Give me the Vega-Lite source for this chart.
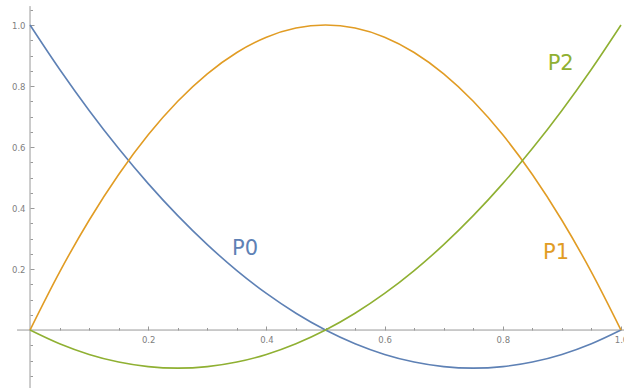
{
  "$schema": "https://vega.github.io/schema/vega-lite/v6.json",
  "width": 624,
  "height": 388,
  "padding": 0,
  "autosize": {"type": "none"},
  "background": "white",
  "config": {"view": {"stroke": null}},
  "datasets": {
    "curves": [
      {"t": 0, "P0": 1, "P1": 0, "P2": 0},
      {"t": 0.05, "P0": 0.855, "P1": 0.19, "P2": -0.045},
      {"t": 0.1, "P0": 0.72, "P1": 0.36, "P2": -0.08},
      {"t": 0.15, "P0": 0.595, "P1": 0.51, "P2": -0.105},
      {"t": 0.2, "P0": 0.48, "P1": 0.64, "P2": -0.12},
      {"t": 0.25, "P0": 0.375, "P1": 0.75, "P2": -0.125},
      {"t": 0.3, "P0": 0.28, "P1": 0.84, "P2": -0.12},
      {"t": 0.35, "P0": 0.195, "P1": 0.91, "P2": -0.105},
      {"t": 0.4, "P0": 0.12, "P1": 0.96, "P2": -0.08},
      {"t": 0.45, "P0": 0.055, "P1": 0.99, "P2": -0.045},
      {"t": 0.5, "P0": 0, "P1": 1, "P2": 0},
      {"t": 0.55, "P0": -0.045, "P1": 0.99, "P2": 0.055},
      {"t": 0.6, "P0": -0.08, "P1": 0.96, "P2": 0.12},
      {"t": 0.65, "P0": -0.105, "P1": 0.91, "P2": 0.195},
      {"t": 0.7, "P0": -0.12, "P1": 0.84, "P2": 0.28},
      {"t": 0.75, "P0": -0.125, "P1": 0.75, "P2": 0.375},
      {"t": 0.8, "P0": -0.12, "P1": 0.64, "P2": 0.48},
      {"t": 0.85, "P0": -0.105, "P1": 0.51, "P2": 0.595},
      {"t": 0.9, "P0": -0.08, "P1": 0.36, "P2": 0.72},
      {"t": 0.95, "P0": -0.045, "P1": 0.19, "P2": 0.855},
      {"t": 1, "P0": 0, "P1": 0, "P2": 1}
    ],
    "labels": [
      {"s": "P0", "x": 0.364, "y": 0.265},
      {"s": "P1", "x": 0.89, "y": 0.252},
      {"s": "P2", "x": 0.898, "y": 0.872}
    ],
    "axes": [
      {"ax": "x", "x": -0.022, "x2": 1.006, "y": 0, "y2": 0},
      {"ax": "y", "x": 0, "x2": 0, "y": -0.2, "y2": 1.062}
    ]
  },
  "resolve": {"axis": {"x": "independent", "y": "independent"}},
  "layer": [
    {
      "data": {"name": "axes"},
      "mark": {"type": "rule", "color": "#999999", "strokeWidth": 1},
      "encoding": {
        "x": {"field": "x", "type": "quantitative", "scale": {"domain": [-0.0508, 1.0051], "nice": false, "zero": false}, "axis": null},
        "x2": {"field": "x2"},
        "y": {"field": "y", "type": "quantitative", "scale": {"domain": [-0.19, 1.082], "nice": false, "zero": false}, "axis": null},
        "y2": {"field": "y2"}
      }
    },
    {
      "data": {"name": "curves"},
      "transform": [{"fold": ["P0", "P1", "P2"], "as": ["s", "v"]}],
      "mark": {"type": "line", "interpolate": "monotone", "strokeWidth": 1.6, "clip": true},
      "encoding": {
        "x": {
          "field": "t", "type": "quantitative",
          "scale": {"domain": [-0.0508, 1.0051], "nice": false, "zero": false},
          "axis": {
            "orient": "top", "offset": -330, "title": null, "labels": false, "domain": false, "grid": false,
            "values": [0.05, 0.1, 0.15, 0.2, 0.25, 0.3, 0.35, 0.4, 0.45, 0.5, 0.55, 0.6, 0.65, 0.7, 0.75, 0.8, 0.85, 0.9, 0.95, 1.0],
            "tickColor": "#999999", "tickWidth": 1,
            "tickSize": {"condition": {"test": "abs(datum.value*5 - round(datum.value*5)) < 0.000001", "value": 4}, "value": 2.5}
          }
        },
        "y": {
          "field": "v", "type": "quantitative",
          "scale": {"domain": [-0.19, 1.082], "nice": false, "zero": false},
          "axis": {
            "orient": "right", "offset": -594, "title": null, "labels": false, "domain": false, "grid": false,
            "values": [-0.15, -0.1, -0.05, 0.05, 0.1, 0.15, 0.2, 0.25, 0.3, 0.35, 0.4, 0.45, 0.5, 0.55, 0.6, 0.65, 0.7, 0.75, 0.8, 0.85, 0.9, 0.95, 1.0, 1.05],
            "tickColor": "#999999", "tickWidth": 1,
            "tickSize": {"condition": {"test": "abs(datum.value*5 - round(datum.value*5)) < 0.000001", "value": 4}, "value": 2.5}
          }
        },
        "color": {
          "field": "s", "type": "nominal",
          "scale": {"domain": ["P0", "P1", "P2"], "range": ["#5E81B5", "#E19C24", "#8FB032"]},
          "legend": null
        }
      }
    },
    {
      "data": {"name": "labels"},
      "mark": {"type": "text", "font": "DejaVu Sans", "fontSize": 21, "align": "center", "baseline": "middle"},
      "encoding": {
        "x": {
          "field": "x", "type": "quantitative",
          "scale": {"domain": [-0.0508, 1.0051], "nice": false, "zero": false},
          "axis": {
            "orient": "bottom", "offset": -58, "title": null, "ticks": false, "domain": false, "grid": false,
            "values": [0.2, 0.4, 0.6, 0.8, 1.0], "format": ".1f",
            "labelFont": "DejaVu Sans", "labelFontSize": 8.5, "labelColor": "#808080", "labelPadding": 5,
            "labelFlush": false, "labelOverlap": false
          }
        },
        "y": {
          "field": "y", "type": "quantitative",
          "scale": {"domain": [-0.19, 1.082], "nice": false, "zero": false},
          "axis": {
            "orient": "left", "offset": -30, "title": null, "ticks": false, "domain": false, "grid": false,
            "values": [0.2, 0.4, 0.6, 0.8, 1.0], "format": ".1f",
            "labelFont": "DejaVu Sans", "labelFontSize": 8.5, "labelColor": "#808080", "labelPadding": 5,
            "labelFlush": false, "labelOverlap": false
          }
        },
        "text": {"field": "s", "type": "nominal"},
        "color": {
          "field": "s", "type": "nominal",
          "scale": {"domain": ["P0", "P1", "P2"], "range": ["#5E81B5", "#E19C24", "#8FB032"]},
          "legend": null
        }
      }
    }
  ]
}
